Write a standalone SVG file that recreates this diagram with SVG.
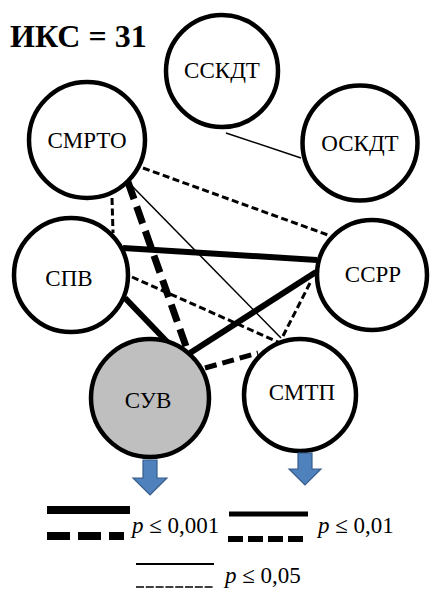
<svg xmlns="http://www.w3.org/2000/svg" width="432" height="589" viewBox="0 0 432 589">
  <style>
    .node circle { fill: #ffffff; stroke: #000000; stroke-width: 4.5; }
    .node.focus circle { fill: #bfbfbf; }
    text { font-family: Times New Roman, Liberation Serif, Times, Tinos, Noto Serif, DejaVu Serif, serif; fill: #000000; }
    .node text, .legend text { font-size: 23px; text-anchor: middle; }
    .legend text { text-anchor: start; }
    .title { font-size: 32px; font-weight: bold; }
    line { stroke: #000000; fill: none; }
    .thin { stroke-width: 1.5; }
    .mid-dash { stroke-width: 3; stroke-dasharray: 7 3.5; }
    .thick { stroke-width: 6; }
    .thick-dash { stroke-width: 7; stroke-dasharray: 18 8; }
    .heavy-dash { stroke-width: 5; stroke-dasharray: 12 6; }
    .out { fill: #4f81bd; stroke: #385d8a; stroke-width: 1.2; }
  </style>

  <rect width="432" height="589" fill="#ffffff"/>

  <text class="title" x="10" y="47">ИКС = 31</text>

  <!-- connectors -->
  <g id="connectors">
    <line class="thin" x1="226" y1="133" x2="301" y2="158"/>
    <line class="mid-dash" x1="143" y1="168" x2="328" y2="235"/>
    <line class="mid-dash" x1="112" y1="198" x2="113" y2="233"/>
    <line class="thin" x1="131" y1="185" x2="281" y2="338"/>
    <line class="thick-dash" x1="128" y1="182" x2="188" y2="352"/>
    <line class="thick" x1="123" y1="248" x2="317" y2="260"/>
    <line class="mid-dash" x1="132" y1="277" x2="278" y2="342"/>
    <line class="thick" x1="125" y1="298" x2="172" y2="347"/>
    <line class="thick" x1="316" y1="272" x2="190" y2="353"/>
    <line class="mid-dash" x1="310" y1="283" x2="282" y2="338"/>
    <line class="heavy-dash" x1="205" y1="368" x2="258" y2="353"/>
  </g>

  <!-- nodes -->
  <g id="sskdt" class="node">
    <circle cx="222" cy="71" r="56"/>
    <text x="222" y="78">ССКДТ</text>
  </g>
  <g id="oskdt" class="node">
    <circle cx="360" cy="143" r="57.5"/>
    <text x="360" y="151">ОСКДТ</text>
  </g>
  <g id="smrto" class="node">
    <circle cx="87" cy="140" r="58"/>
    <text x="87" y="148">СМРТО</text>
  </g>
  <g id="spv" class="node">
    <circle cx="71" cy="275" r="57"/>
    <text x="69" y="286">СПВ</text>
  </g>
  <g id="ssrr" class="node">
    <circle cx="372" cy="275" r="55"/>
    <text x="373" y="282">ССРР</text>
  </g>
  <g id="suv" class="node focus">
    <circle cx="150" cy="398" r="59"/>
    <text x="148" y="408">СУВ</text>
  </g>
  <g id="smtp" class="node">
    <circle cx="300" cy="395" r="56"/>
    <text x="302" y="400">СМТП</text>
  </g>

  <!-- output arrows -->
  <g id="outputs">
    <path class="out" d="M143,460 L157,460 L157,478 L167,478 L150,495 L133,478 L143,478 Z"/>
    <path class="out" d="M298,453 L312,453 L312,469 L321,469 L305,485 L289,469 L298,469 Z"/>
  </g>

  <!-- legend -->
  <g id="legend" class="legend">
    <line x1="47" y1="510" x2="130" y2="510" stroke-width="8"/>
    <line x1="47" y1="536" x2="124" y2="536" stroke-width="8" stroke-dasharray="23 8"/>
    <text x="132" y="533"><tspan font-style="italic">p</tspan> ≤ 0,001</text>
    <line x1="229" y1="514" x2="308" y2="514" stroke-width="5"/>
    <line x1="228" y1="539" x2="306" y2="539" stroke-width="6" stroke-dasharray="15 5"/>
    <text x="318" y="533"><tspan font-style="italic">p</tspan> ≤ 0,01</text>
    <line x1="136" y1="564" x2="214" y2="564" stroke-width="2"/>
    <line x1="136" y1="587" x2="214" y2="587" stroke-width="1.5" stroke-dasharray="8 1.8"/>
    <text x="225" y="583"><tspan font-style="italic">p</tspan> ≤ 0,05</text>
  </g>
</svg>
